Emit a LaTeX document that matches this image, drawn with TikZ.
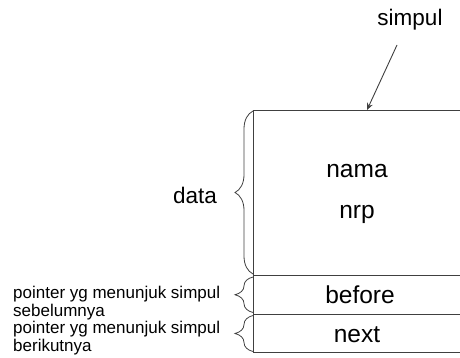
\documentclass[tikz,border=0pt]{standalone}
\usepackage{fontspec}
\setmainfont{Liberation Sans}
\usetikzlibrary{decorations.pathreplacing,arrows.meta}
\definecolor{linec}{HTML}{404040}
\begin{document}
\begin{tikzpicture}[x=1pt,y=-1pt,
  boxline/.style={draw=linec,line width=0.9pt},
  bracestyle/.style={draw=linec,line width=0.8pt,decorate,decoration={brace,amplitude=18pt}},
  bigtxt/.style={inner sep=0pt,font=\fontsize{24.5}{29}\selectfont},
  midtxt/.style={inner sep=0pt,font=\fontsize{22.5}{27}\selectfont},
  smalltxt/.style={inner sep=0pt,align=left,font=\fontsize{17}{17.5}\selectfont},
  pointer/.style={draw=linec,line width=0.9pt,-{Stealth[length=7pt,width=6pt]}}]
\useasboundingbox (0,0) rectangle (460,358);
% box
\coordinate (tl) at (253,110);
\coordinate (bl) at (253,352);
\draw[boxline] (460,110) -- (tl) -- (bl) -- (460,352);
\draw[boxline] (253,275) -- (460,275);
\draw[boxline] (253,314) -- (460,314);
% texts in box
\node[bigtxt,anchor=base] (nama) at (357,178) {nama};
\node[bigtxt,anchor=base] (nrp) at (357,218) {nrp};
\node[bigtxt,anchor=base] (before) at (360,303) {before};
\node[bigtxt,anchor=base] (next) at (357,342) {next};
% simpul
\node[midtxt,anchor=base] (simpul) at (410,26) {simpul};
\coordinate (arrstart) at (397,45);
\coordinate (arrend) at (367,110);
\draw[pointer] (arrstart) -- (arrend);
% braces
\draw[bracestyle] (253,274) -- (253,111);
\draw[bracestyle] (253,312.5) -- (253,277);
\draw[bracestyle] (253,351.5) -- (253,315.5);
\node[midtxt,anchor=base] (data) at (195,203) {data};
\node[smalltxt,anchor=base west] (lbla) at (13,316) {pointer yg menunjuk simpul\\sebelumnya};
\node[smalltxt,anchor=base west] (lblb) at (13,351) {pointer yg menunjuk simpul\\berikutnya};
\end{tikzpicture}
\end{document}
